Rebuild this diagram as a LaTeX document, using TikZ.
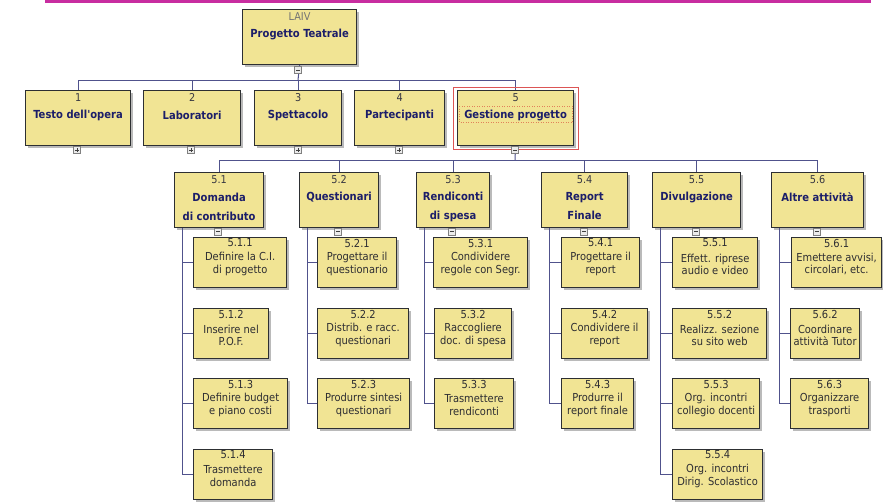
\documentclass[tikz,border=0pt]{standalone}
\usepackage{fontspec}
\setmainfont{DejaVu Sans Condensed}
\usetikzlibrary{shadows}

\definecolor{boxfill}{RGB}{241,228,148}
\definecolor{boxline}{RGB}{45,47,50}
\definecolor{titlecol}{RGB}{28,30,105}
\definecolor{numcol}{RGB}{55,55,65}
\definecolor{taskcol}{RGB}{45,45,50}
\definecolor{linkcol}{RGB}{80,82,140}
\definecolor{pinkline}{RGB}{200,45,160}
\definecolor{selred}{RGB}{220,85,85}
\definecolor{seldot}{RGB}{225,130,90}

\tikzset{
  wbs/.style={draw=boxline, line width=1.2pt, fill=boxfill, inner sep=0pt,
    anchor=north west,
    drop shadow={shadow xshift=2pt, shadow yshift=-2pt, fill=black!45, opacity=0.6}},
  numtxt/.style={font=\fontsize{10.8}{12}\selectfont, text=numcol, inner sep=0pt},
  titletxt/.style={font=\bfseries\fontsize{11.1}{19}\selectfont, text=titlecol,
    align=center, inner sep=0pt},
  tasktxt/.style={font=\fontsize{11}{12.2}\selectfont, text=taskcol,
    align=center, inner sep=0pt},
  link/.style={draw=linkcol, line width=1pt},
  toggle/.style={draw=black!50, fill=white!92!black, line width=0.5pt,
    minimum size=7pt, inner sep=0pt},
  togglesign/.style={draw=black!75, line width=0.6pt},
}

% plain box: name, x1, y1, x2, y2
\newcommand\WBox[5]{%
  \node[wbs, minimum width={#4-#2}, minimum height={#5-#3}] (#1) at (#2,#3) {};}

% titled box: name, x1, y1, x2, y2, number, title, title offset
\newcommand\BigBox[8]{%
  \WBox{#1}{#2}{#3}{#4}{#5}
  \node[numtxt] (#1-n) at ([yshift=-7.5pt]#1.north) {#6};
  \node[titletxt] (#1-t) at ([yshift=-#8pt]#1.north) {#7};}

% work package: name, x1, y1, x2, number, first line, second line
\newcommand\TaskBox[7]{%
  \WBox{#1}{#2}{#3}{#4}{#3+50}
  \node[tasktxt] (#1-n) at ([yshift=-6pt]#1.north) {#5};
  \node[tasktxt] (#1-t) at ([yshift=-27pt]#1.north) {#6\\#7};}

% expand/collapse marker: name, x, y, 1 = plus / 0 = minus
\newcommand\Toggle[4]{%
  \node[toggle] (#1) at (#2,#3) {};
  \draw[togglesign] ([xshift=-2pt]#1.center) -- ([xshift=2pt]#1.center);
  \ifnum#4=1 \draw[togglesign] ([yshift=-2pt]#1.center) -- ([yshift=2pt]#1.center);\fi}

\begin{document}
\begin{tikzpicture}[x=1pt, y=-1pt]
\useasboundingbox (0,0) rectangle (883,501);

% header rule
\draw[pinkline, line width=3pt] (45,1.5) -- (871,1.5);

% root
\BigBox{root}{242}{9}{356}{64}{\textcolor{black!55}{LAIV}}{Progetto Teatrale}{25}

% level 1
\BigBox{p1}{25}{90}{130}{145}{1}{Testo dell\textquotesingle opera}{25}
\BigBox{p2}{143}{90}{240}{145}{2}{Laboratori}{25}
\BigBox{p3}{254}{90}{341}{145}{3}{Spettacolo}{25}
\BigBox{p4}{354}{90}{444}{145}{4}{Partecipanti}{25}
\BigBox{p5}{457}{90}{573}{145}{5}{Gestione progetto}{25}

% level 2
\BigBox{s1}{174}{172}{263}{227}{5.1}{Domanda\\di contributo}{34.5}
\BigBox{s2}{299}{172}{378}{227}{5.2}{Questionari}{25}
\BigBox{s3}{416}{172}{489}{227}{5.3}{Rendiconti\\di spesa}{34.5}
\BigBox{s4}{541}{172}{627}{227}{5.4}{Report\\Finale}{34.5}
\BigBox{s5}{652}{172}{740}{227}{5.5}{Divulgazione}{25}
\BigBox{s6}{771}{172}{863}{227}{5.6}{Altre attività}{25}

% level 3
\TaskBox{t11}{193}{237}{286}{5.1.1}{Definire la C.I.}{di progetto}
\TaskBox{t12}{193}{308}{268}{5.1.2}{Inserire nel}{P.O.F.}
\TaskBox{t13}{193}{378}{287}{5.1.3}{Definire budget}{e piano costi}
\TaskBox{t14}{193}{449}{272}{5.1.4}{Trasmettere}{domanda}

\TaskBox{t21}{317}{237}{396}{5.2.1}{Progettare il}{questionario}
\TaskBox{t22}{317}{308}{408}{5.2.2}{Distrib. e racc.}{questionari}
\TaskBox{t23}{317}{378}{409}{5.2.3}{Produrre sintesi}{questionari}

\TaskBox{t31}{433}{237}{527}{5.3.1}{Condividere}{regole con Segr.}
\TaskBox{t32}{434}{308}{511}{5.3.2}{Raccogliere}{doc. di spesa}
\TaskBox{t33}{434}{378}{513}{5.3.3}{Trasmettere}{rendiconti}

\TaskBox{t41}{561}{237}{639}{5.4.1}{Progettare il}{report}
\TaskBox{t42}{561}{308}{647}{5.4.2}{Condividere il}{report}
\TaskBox{t43}{561}{378}{633}{5.4.3}{Produrre il}{report finale}

\TaskBox{t51}{672}{237}{757}{5.5.1}{Effett. riprese}{audio e video}
\TaskBox{t52}{672}{308}{766}{5.5.2}{Realizz. sezione}{su sito web}
\TaskBox{t53}{672}{378}{759}{5.5.3}{Org. incontri}{collegio docenti}
\TaskBox{t54}{672}{449}{762}{5.5.4}{Org. incontri}{Dirig. Scolastico}

\TaskBox{t61}{791}{237}{881}{5.6.1}{Emettere avvisi,}{circolari, etc.}
\TaskBox{t62}{790}{308}{859}{5.6.2}{Coordinare}{attività Tutor}
\TaskBox{t63}{790}{378}{868}{5.6.3}{Organizzare}{trasporti}

% connectors: root to level 1
\coordinate (bar0) at (298,80);
\draw[link] (root.south) -- (bar0);
\foreach \n in {p1,p2,p3,p4,p5} \draw[link] (bar0) -| (\n.north);

% connectors: level 1 to level 2
\coordinate (bar1) at (515,160);
\draw[link] (p5.south) -- (bar1);
\foreach \n in {s1,s2,s3,s4,s5,s6} \draw[link] (bar1) -| (\n.north);

% connectors: level 2 to level 3
\foreach \p/\c in {s1/t11,s1/t12,s1/t13,s1/t14,
                   s2/t21,s2/t22,s2/t23,
                   s3/t31,s3/t32,s3/t33,
                   s4/t41,s4/t42,s4/t43,
                   s5/t51,s5/t52,s5/t53,s5/t54,
                   s6/t61,s6/t62,s6/t63}
  \draw[link] ([xshift=8.5pt]\p.south west) |- (\c.west);

% selection marks on "Gestione progetto"
\draw[selred, line width=0.8pt] ([xshift=-4pt,yshift=3pt]p5.north west)
  rectangle ([xshift=4pt,yshift=-3pt]p5.south east);
\draw[seldot, line width=0.5pt, dotted] ([xshift=2pt,yshift=-16pt]p5.north west)
  rectangle ([xshift=-2pt,yshift=-32pt]p5.north east);

% expand/collapse markers
\Toggle{mroot}{298}{70}{0}
\Toggle{m1}{77}{150}{1}
\Toggle{m2}{191}{150}{1}
\Toggle{m3}{298}{150}{1}
\Toggle{m4}{399}{150}{1}
\Toggle{m5}{515}{150}{0}
\Toggle{ms1}{218}{231.5}{0}
\Toggle{ms2}{338}{231.5}{0}
\Toggle{ms3}{452}{231.5}{0}
\Toggle{ms4}{584}{231.5}{0}
\Toggle{ms5}{696}{231.5}{0}
\Toggle{ms6}{817}{231.5}{0}
\end{tikzpicture}
\end{document}
